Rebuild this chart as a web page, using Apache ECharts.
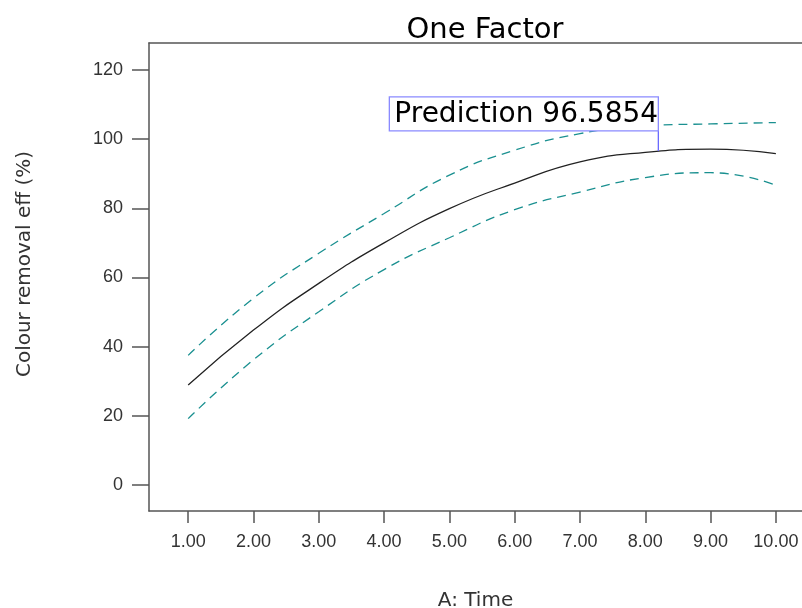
<!DOCTYPE html>
<html><head><meta charset="utf-8">
<script src="https://cdn.jsdelivr.net/npm/echarts@6/dist/echarts.min.js"></script>
<style>html,body{margin:0;padding:0;background:#fff}#c{width:802px;height:608px}</style>
</head><body><div id="c"></div>
<script>
const timeValues = [1, 2, 3, 4, 5, 6, 7, 8, 9, 10];
const predicted  = [28.9, 44.8, 58.3, 70.0, 79.9, 87.3, 93.4, 96.2, 97.1, 95.8];
const upperBand  = [37.5, 54.0, 67.0, 78.5, 89.6, 96.8, 101.6, 103.9, 104.4, 104.8];
const lowerBand  = [19.2, 36.2, 50.1, 62.3, 71.5, 79.6, 84.7, 88.9, 90.3, 86.7];
const xTicks = [1, 2, 3, 4, 5, 6, 7, 8, 9, 10];
const yTicks = [0, 20, 40, 60, 80, 100, 120];
const predictionX = 8.2;
const predictionY = 96.5854;
const titleText = 'One Factor';
const xName = 'A: Time';
const yName = 'Colour removal eff (%)';

const pairs = (ys) => timeValues.map((x, i) => [x, ys[i]]);
const axisColor = '#555';
const chart = echarts.init(document.getElementById('c'), null, {renderer: 'canvas'});
chart.setOption({
  animation: false,
  backgroundColor: '#fff',
  title: {
    text: titleText, left: 480, top: 11, textAlign: 'center',
    textStyle: {fontFamily: 'DejaVu Sans', fontSize: 29, fontWeight: 'normal', color: '#000'}
  },
  grid: {left: 149, right: 0, top: 43, bottom: 97, containLabel: false, outerBoundsMode: 'none'},
  xAxis: [{
    type: 'value', min: 0.4, max: 10.4, position: 'bottom',
    name: xName, nameLocation: 'middle', nameGap: 80,
    nameTextStyle: {fontFamily: 'DejaVu Sans', fontSize: 20, color: '#333'},
    axisLine: {show: true, onZero: false, lineStyle: {color: axisColor, width: 1.5}},
    axisTick: {show: true, inside: false, length: 12, customValues: xTicks, lineStyle: {color: axisColor, width: 1.5}},
    axisLabel: {show: true, margin: 22, customValues: xTicks, formatter: v => v.toFixed(2),
      fontFamily: 'Liberation Sans', fontSize: 18, color: '#333'},
    splitLine: {show: false}
  }, {
    type: 'value', min: 0.4, max: 10.4, position: 'top',
    axisLine: {show: true, onZero: false, lineStyle: {color: axisColor, width: 1.5}},
    axisTick: {show: false}, axisLabel: {show: false}, splitLine: {show: false}
  }],
  yAxis: {
    type: 'value', min: -7.5, max: 127.8,
    name: yName, nameLocation: 'middle', nameGap: 114, nameRotate: 90,
    nameTextStyle: {fontFamily: 'DejaVu Sans', fontSize: 20, color: '#333', padding: [0, 0, 0, 26]},
    axisLine: {show: true, onZero: false, lineStyle: {color: axisColor, width: 1.5}},
    axisTick: {show: true, inside: false, length: 17, customValues: yTicks, lineStyle: {color: axisColor, width: 1.5}},
    axisLabel: {show: true, margin: 26, customValues: yTicks,
      fontFamily: 'Liberation Sans', fontSize: 18, color: '#333'},
    splitLine: {show: false}
  },
  series: [{
    name: 'Prediction', type: 'line', data: pairs(predicted), smooth: true, symbol: 'none',
    lineStyle: {color: '#222', width: 1.3}, z: 3
  }, {
    name: 'Upper', type: 'line', data: pairs(upperBand), smooth: true, symbol: 'none',
    lineStyle: {color: '#1a9090', width: 1.3, type: [9, 6]}, z: 2
  }, {
    name: 'Lower', type: 'line', data: pairs(lowerBand), smooth: true, symbol: 'none',
    lineStyle: {color: '#1a9090', width: 1.3, type: [9, 6]}, z: 2
  }]
});

const p = chart.convertToPixel({gridIndex: 0}, [predictionX, predictionY]);
const boxW = 269, boxH = 34, gap = 20;
const boxRight = p[0], boxBottom = p[1] - gap;
chart.setOption({
  graphic: [{
    type: 'line', z: 10,
    shape: {x1: p[0], y1: boxBottom, x2: p[0], y2: p[1]},
    style: {stroke: '#6a6aff', lineWidth: 1.3}
  }, {
    type: 'rect', z: 10,
    shape: {x: boxRight - boxW, y: boxBottom - boxH, width: boxW, height: boxH},
    style: {fill: '#fff', stroke: '#8a8aff', lineWidth: 1.3}
  }, {
    type: 'text', z: 11,
    x: boxRight - boxW + 5, y: boxBottom - boxH / 2 + 1,
    style: {text: 'Prediction ' + predictionY.toFixed(4), fontFamily: 'DejaVu Sans', fontSize: 28,
      fill: '#000', verticalAlign: 'middle', align: 'left'}
  }]
});
</script></body></html>
